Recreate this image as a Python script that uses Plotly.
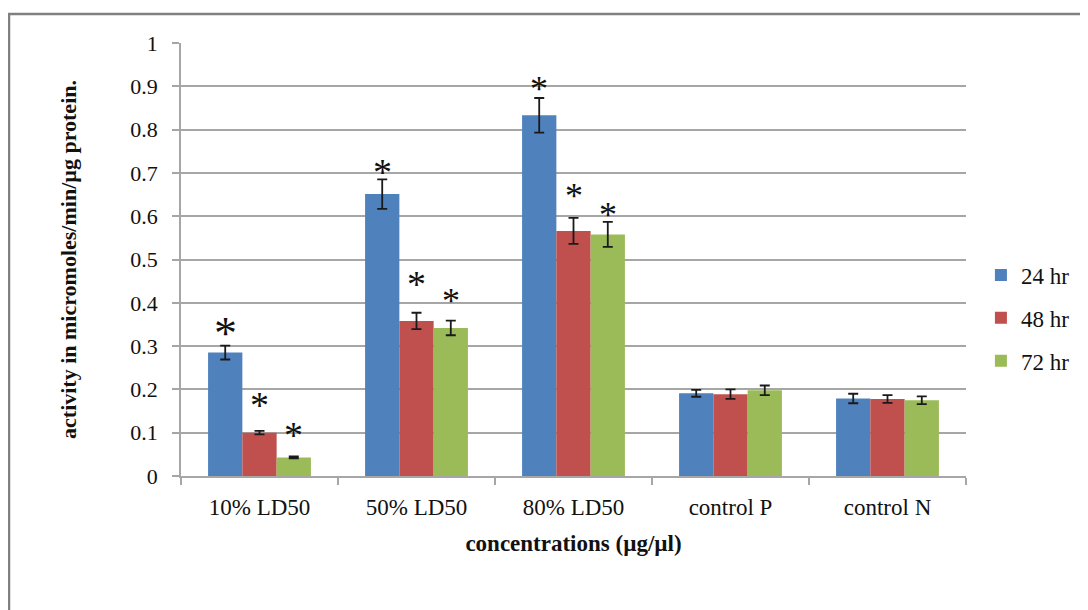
import plotly.graph_objects as go

categories = ["10% LD50", "50% LD50", "80% LD50", "control P", "control N"]
series_names = ["24 hr", "48 hr", "72 hr"]
values_24 = [0.285, 0.651, 0.833, 0.191, 0.179]
values_48 = [0.100, 0.358, 0.566, 0.189, 0.178]
values_72 = [0.043, 0.342, 0.558, 0.198, 0.175]
err_24 = [0.016, 0.034, 0.040, 0.008, 0.011]
err_48 = [0.004, 0.019, 0.030, 0.011, 0.009]
err_72 = [0.002, 0.017, 0.029, 0.011, 0.009]
# significance asterisks (1 = shown)
star_24 = [1, 1, 1, 0, 0]
star_48 = [1, 1, 1, 0, 0]
star_72 = [1, 1, 1, 0, 0]

# style only: asterisk font size and pixel gap above the error bar
star_size = [[46, 38, 36, 0, 0], [38, 38, 36, 0, 0], [38, 36, 36, 0, 0]]
star_gap = [[21, 15, 16, 0, 0], [34, 36, 29, 0, 0], [29, 27, 14, 0, 0]]
colors = ["#4F81BD", "#C0504D", "#9BBB59"]

values = [values_24, values_48, values_72]
errors = [err_24, err_48, err_72]
stars = [star_24, star_48, star_72]

FONT = "Liberation Serif"
bargap = 0.345

fig = go.Figure()
for i, (name, v, e, c) in enumerate(zip(series_names, values, errors, colors)):
    fig.add_trace(go.Bar(
        x=categories, y=v, name=name, legendgroup=name,
        marker=dict(color=c, line=dict(width=0)),
        error_y=dict(type="data", array=e, visible=True, color="#1a1a1a",
                     thickness=1.8, width=5),
    ))

bw = (1 - bargap) / 3
annotations = []
for si in range(3):
    for ci in range(len(categories)):
        if stars[si][ci]:
            sz = star_size[si][ci]
            annotations.append(dict(
                x=ci + (si - 1) * bw, y=values[si][ci] + errors[si][ci],
                xref="x", yref="y", text="*", showarrow=False,
                yanchor="middle",
                yshift=star_gap[si][ci] - 0.2 * sz,
                font=dict(family=FONT, size=sz, color="#111"),
            ))

fig.update_layout(
    width=1088, height=610,
    margin=dict(l=173, r=130, t=35, b=142),
    paper_bgcolor="white", plot_bgcolor="white",
    barmode="group", bargap=bargap, bargroupgap=0,
    font=dict(family=FONT, size=22, color="#111"),
    showlegend=True,
    legend=dict(x=1.019, y=0.365, xanchor="left", yanchor="middle",
                font=dict(family=FONT, size=23, color="#111"),
                tracegroupgap=10, itemwidth=30, bgcolor="rgba(0,0,0,0)"),
    annotations=annotations,
    shapes=[dict(type="rect", xref="paper", yref="paper",
                 x0=-0.2191, x1=1.2, y0=-0.4, y1=1.067,
                 line=dict(color="#808080", width=2.5), layer="below")],
)

fig.update_yaxes(
    range=[0, 1], dtick=0.1, tickformat="~g",
    showgrid=True, gridcolor="#A6A6A6", gridwidth=1.8,
    showline=True, linecolor="#A6A6A6", linewidth=1.5,
    ticks="outside", ticklen=7, tickcolor="#A6A6A6", tickwidth=1.5,
    zeroline=False, ticklabelstandoff=10,
    tickfont=dict(family=FONT, size=22, color="#111"),
    title=dict(text="<b>activity in micromoles/min/µg protein.</b>",
               font=dict(family=FONT, size=22, color="#111"), standoff=48),
)
fig.update_xaxes(
    showline=True, linecolor="#A6A6A6", linewidth=1.5,
    ticks="outside", tickson="boundaries", ticklen=7, tickcolor="#A6A6A6", tickwidth=1.5,
    ticklabelstandoff=10,
    tickfont=dict(family=FONT, size=23, color="#111"),
    title=dict(text="<b>concentrations (µg/µl)</b>",
               font=dict(family=FONT, size=23, color="#111"), standoff=16),
)

fig.write_html("out.html")
